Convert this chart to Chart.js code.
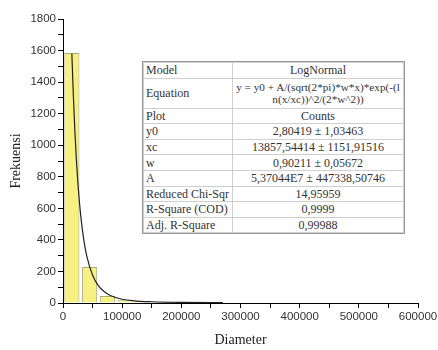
<!DOCTYPE html>
<html>
<head>
<meta charset="utf-8">
<script src="https://cdn.jsdelivr.net/npm/chart.js@4.4.1/dist/chart.umd.min.js"></script>
<style>
  html, body { margin: 0; padding: 0; background: #fff; }
  #wrap { position: relative; width: 438px; height: 350px; }
  #fit {
    position: absolute; left: 143px; top: 62px; width: 260px;
    border-collapse: collapse; table-layout: fixed; background: #fff;
    font-family: "Liberation Serif", "DejaVu Serif", serif; font-size: 12px; color: #333;
    outline: 1px solid #999;
  }
  #fit td { border: 1px solid #cfcfcf; padding: 0 2px; height: 14.6px; line-height: 12px; white-space: nowrap; overflow: hidden; }
  #fit td.k { text-align: left; }
  #fit td.v { text-align: center; }
</style>
</head>
<body>
<div id="wrap">
  <canvas id="chart" width="438" height="350"></canvas>
  <table id="fit">
    <colgroup><col style="width:89px"><col style="width:171px"></colgroup>
    <tr><td class="k">Model</td><td class="v">LogNormal</td></tr>
    <tr><td class="k" style="height:29px">Equation</td><td class="v" style="font-size:11.2px">y = y0 + A/(sqrt(2*pi)*w*x)*exp(-(l<br>n(x/xc))^2/(2*w^2))</td></tr>
    <tr><td class="k">Plot</td><td class="v">Counts</td></tr>
    <tr><td class="k">y0</td><td class="v">2,80419 ± 1,03463</td></tr>
    <tr><td class="k">xc</td><td class="v">13857,54414 ± 1151,91516</td></tr>
    <tr><td class="k">w</td><td class="v">0,90211 ± 0,05672</td></tr>
    <tr><td class="k">A</td><td class="v">5,37044E7 ± 447338,50746</td></tr>
    <tr><td class="k">Reduced Chi-Sqr</td><td class="v">14,95959</td></tr>
    <tr><td class="k">R-Square (COD)</td><td class="v">0,9999</td></tr>
    <tr><td class="k">Adj. R-Square</td><td class="v">0,99988</td></tr>
  </table>
</div>
<script>
// histogram bins (bin centres) and counts
var binCenters = [15000, 45000, 75000, 105000, 135000, 165000, 195000, 225000, 255000];
var binCounts = [1585, 228, 45, 17, 12, 6, 4, 3, 2];

// lognormal fit curve
var fitX = [15000, 17500, 20000, 22500, 25000, 30000, 35000, 40000, 50000, 60000, 70000, 80000, 100000, 120000, 150000, 200000, 270000];
var fitY = [1580, 1315, 1096, 916, 770, 552, 403, 300, 176, 109, 71, 48, 24, 14, 8, 4, 3];

var xTicks = [0, 100000, 200000, 300000, 400000, 500000, 600000];
var yTicks = [0, 200, 400, 600, 800, 1000, 1200, 1400, 1600, 1800];

var bars = binCenters.map(function (x, i) { return { x: x, y: binCounts[i] }; });
var curve = fitX.map(function (x, i) { return { x: x, y: fitY[i] }; });

var tickFont = { family: '"Liberation Sans", Arial, sans-serif', size: 11.5 };
var titleFont = { family: '"Liberation Serif", "Times New Roman", serif', size: 14 };

new Chart(document.getElementById('chart'), {
    type: 'bar',
    data: {
        datasets: [{
            type: 'line',
            data: curve,
            borderColor: '#222',
            borderWidth: 1.2,
            pointRadius: 0,
            cubicInterpolationMode: 'monotone',
            order: 0
        }, {
            type: 'bar',
            data: bars,
            backgroundColor: '#f7f183',
            borderColor: '#aaa77a',
            borderWidth: 1,
            barPercentage: 0.85,
            categoryPercentage: 1,
            order: 1
        }]
    },
    options: {
        responsive: false,
        animation: false,
        devicePixelRatio: 1,
        layout: { padding: { top: 19, right: 20, left: 0, bottom: 0 } },
        plugins: { legend: { display: false }, tooltip: { enabled: false } },
        scales: {
            x: {
                type: 'linear',
                min: 0,
                max: 600000,
                offset: false,
                afterFit: function (s) { s.height = 47; s.paddingLeft = 0; s.paddingRight = 0; },
                grid: { offset: false, drawOnChartArea: false, drawTicks: true, tickLength: 5, color: '#000' },
                border: { display: true, color: '#000', width: 1 },
                ticks: {
                    stepSize: 50000,
                    autoSkip: false,
                    maxRotation: 0,
                    padding: 2,
                    color: '#333',
                    font: tickFont,
                    callback: function (v) { return xTicks.indexOf(v) >= 0 ? String(v) : ''; }
                },
                title: { display: true, text: 'Diameter', color: '#222', font: titleFont, padding: { top: 3, bottom: 1 } }
            },
            y: {
                min: 0,
                max: 1800,
                afterFit: function (s) { s.width = 63; s.paddingTop = 0; s.paddingBottom = 0; },
                grid: { drawOnChartArea: false, drawTicks: true, tickLength: 5, color: '#000' },
                border: { display: true, color: '#000', width: 1 },
                ticks: {
                    stepSize: 100,
                    autoSkip: false,
                    padding: 2,
                    color: '#333',
                    font: tickFont,
                    callback: function (v) { return yTicks.indexOf(v) >= 0 ? String(v) : ''; }
                },
                title: { display: true, text: 'Frekuensi', color: '#222', font: titleFont, padding: { top: 8, bottom: 4 } }
            }
        }
    }
});
</script>
</body>
</html>
